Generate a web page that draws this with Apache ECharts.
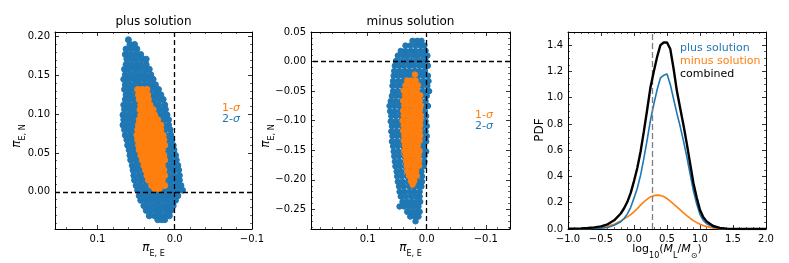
<!DOCTYPE html>
<html><head><meta charset="utf-8">
<script src="https://cdn.jsdelivr.net/npm/echarts@6/dist/echarts.min.js"></script>
<style>html,body{margin:0;padding:0;background:#fff}#c{width:789px;height:263px}</style>
</head><body><div id="c"></div>
<script>
// ---------- data: plus solution (rows of [piEN, [piEE values]]) ----------
const plusTwoSigma = [
 [0.196,[0.060]],
 [0.190,[0.058,0.052]],
 [0.184,[0.063,0.056,0.049]],
 [0.177,[0.064,0.058,0.051,0.044]],
 [0.171,[0.062,0.055,0.049,0.042,0.037]],
 [0.164,[0.063,0.057,0.050,0.044,0.037]],
 [0.158,[0.065,0.059,0.052,0.046,0.039,0.033]],
 [0.151,[0.064,0.057,0.051,0.044,0.038,0.031]],
 [0.145,[0.066,0.060,0.053,0.047,0.040,0.034,0.028]],
 [0.138,[0.064,0.058,0.051,0.045,0.038,0.031,0.025]],
 [0.132,[0.065,0.059,0.052,0.046,0.039,0.033,0.026,0.021]],
 [0.125,[0.063,0.057,0.050,0.044,0.037,0.031,0.024,0.018]],
 [0.119,[0.064,0.058,0.052,0.045,0.039,0.032,0.026,0.019,0.015]],
 [0.112,[0.066,0.060,0.053,0.047,0.040,0.034,0.027,0.021,0.013]],
 [0.106,[0.065,0.058,0.052,0.045,0.039,0.032,0.026,0.019,0.012]],
 [0.099,[0.067,0.061,0.054,0.048,0.041,0.035,0.028,0.022,0.015,0.010]],
 [0.093,[0.066,0.059,0.053,0.046,0.040,0.033,0.027,0.020,0.014,0.008]],
 [0.086,[0.067,0.061,0.054,0.048,0.041,0.035,0.028,0.022,0.015,0.008]],
 [0.080,[0.065,0.059,0.052,0.046,0.039,0.033,0.026,0.020,0.013,0.006]],
 [0.073,[0.064,0.057,0.051,0.044,0.038,0.031,0.025,0.018,0.012,0.005]],
 [0.067,[0.062,0.056,0.049,0.043,0.036,0.030,0.023,0.017,0.010,0.004]],
 [0.060,[0.061,0.054,0.048,0.041,0.035,0.028,0.022,0.015,0.009,0.002]],
 [0.054,[0.059,0.053,0.046,0.040,0.033,0.027,0.020,0.014,0.007,0.001]],
 [0.047,[0.058,0.051,0.045,0.038,0.032,0.025,0.019,0.012,0.006,-0.001]],
 [0.041,[0.057,0.050,0.044,0.037,0.031,0.024,0.018,0.011,0.005,-0.002]],
 [0.034,[0.055,0.049,0.042,0.036,0.029,0.023,0.016,0.010,0.003,-0.004]],
 [0.028,[0.054,0.048,0.041,0.035,0.028,0.022,0.015,0.009,0.002,-0.005]],
 [0.021,[0.053,0.046,0.040,0.033,0.027,0.020,0.014,0.007,0.001,-0.006]],
 [0.015,[0.052,0.045,0.039,0.032,0.026,0.019,0.013,0.006,0.000,-0.006]],
 [0.008,[0.050,0.044,0.037,0.031,0.024,0.018,0.011,0.005,-0.002,-0.008]],
 [0.002,[0.048,0.042,0.035,0.029,0.022,0.016,0.009,0.003,-0.003,-0.010]],
 [-0.005,[0.046,0.039,0.033,0.026,0.020,0.013,0.007,0.000,-0.004]],
 [-0.011,[0.044,0.037,0.031,0.024,0.018,0.011,0.005,-0.001]],
 [-0.018,[0.040,0.034,0.027,0.021,0.014,0.008,0.002]],
 [-0.024,[0.037,0.031,0.024,0.018,0.011,0.005]],
 [-0.031,[0.033,0.026,0.020,0.013,0.007]],
 [-0.036,[0.022,0.017,0.013]]
];
const plusOneSigma = [
 [0.132,[0.048,0.042,0.036]],
 [0.125,[0.047,0.041,0.035]],
 [0.119,[0.046,0.040,0.034]],
 [0.112,[0.044,0.038,0.032]],
 [0.106,[0.045,0.039,0.033,0.028]],
 [0.099,[0.044,0.038,0.032,0.026]],
 [0.093,[0.046,0.040,0.034,0.028,0.022]],
 [0.086,[0.047,0.041,0.035,0.029,0.023,0.018]],
 [0.080,[0.048,0.042,0.036,0.030,0.024,0.018]],
 [0.073,[0.049,0.043,0.037,0.031,0.025,0.019,0.015]],
 [0.067,[0.048,0.042,0.036,0.030,0.024,0.018,0.014]],
 [0.060,[0.047,0.041,0.035,0.029,0.023,0.017,0.013]],
 [0.054,[0.046,0.040,0.034,0.028,0.022,0.016]],
 [0.047,[0.044,0.038,0.032,0.026,0.020,0.014]],
 [0.041,[0.042,0.036,0.030,0.024,0.018,0.013]],
 [0.034,[0.040,0.034,0.028,0.022,0.016]],
 [0.028,[0.038,0.032,0.026,0.020,0.014]],
 [0.021,[0.036,0.030,0.024,0.018,0.013]],
 [0.015,[0.034,0.028,0.022,0.016]],
 [0.008,[0.030,0.024,0.018,0.013]],
 [0.004,[0.026,0.020]]
];
// ---------- data: minus solution ----------
const minusTwoSigma = [
 [0.035,[0.024,0.016,0.009]],
 [0.027,[0.036,0.028,0.019,0.011,0.004]],
 [0.018,[0.044,0.036,0.027,0.019,0.010,0.002]],
 [0.010,[0.049,0.040,0.032,0.023,0.015,0.006,-0.001]],
 [0.001,[0.052,0.044,0.035,0.027,0.018,0.010,0.002]],
 [-0.007,[0.054,0.047,0.039,0.030,0.022,0.013,0.005,-0.002]],
 [-0.016,[0.055,0.046,0.037,0.029,0.020,0.012,0.003]],
 [-0.024,[0.056,0.049,0.041,0.032,0.024,0.015,0.007,-0.002]],
 [-0.033,[0.057,0.048,0.039,0.031,0.022,0.014,0.005,-0.003]],
 [-0.041,[0.058,0.050,0.042,0.033,0.025,0.016,0.008,-0.001]],
 [-0.050,[0.057,0.049,0.040,0.032,0.023,0.015,0.006,-0.004]],
 [-0.058,[0.059,0.051,0.043,0.034,0.026,0.017,0.009,0.000]],
 [-0.067,[0.061,0.053,0.044,0.036,0.027,0.019,0.010,0.002]],
 [-0.075,[0.063,0.055,0.047,0.038,0.030,0.021,0.013,0.004,-0.002]],
 [-0.084,[0.062,0.054,0.045,0.037,0.028,0.020,0.011,0.003]],
 [-0.092,[0.060,0.052,0.043,0.035,0.026,0.018,0.009,0.001]],
 [-0.101,[0.061,0.053,0.045,0.036,0.028,0.019,0.011,0.002]],
 [-0.109,[0.059,0.051,0.042,0.034,0.025,0.017,0.008,0.000]],
 [-0.118,[0.060,0.052,0.044,0.035,0.027,0.018,0.010,0.002]],
 [-0.126,[0.058,0.050,0.041,0.033,0.024,0.016,0.007,0.000]],
 [-0.135,[0.059,0.051,0.043,0.034,0.026,0.017,0.009,0.001]],
 [-0.143,[0.057,0.049,0.040,0.032,0.023,0.015,0.006]],
 [-0.152,[0.056,0.048,0.039,0.031,0.022,0.014,0.005,0.001]],
 [-0.160,[0.055,0.047,0.038,0.030,0.021,0.013,0.004]],
 [-0.169,[0.054,0.046,0.037,0.029,0.020,0.012,0.004]],
 [-0.177,[0.053,0.045,0.036,0.028,0.019,0.011,0.005]],
 [-0.186,[0.051,0.043,0.034,0.026,0.017,0.009]],
 [-0.194,[0.050,0.042,0.033,0.025,0.016,0.008]],
 [-0.203,[0.049,0.041,0.032,0.024,0.015,0.008]],
 [-0.211,[0.047,0.039,0.030,0.022,0.014,0.009]],
 [-0.220,[0.046,0.038,0.029,0.021,0.012]],
 [-0.228,[0.044,0.036,0.027,0.019,0.012]],
 [-0.237,[0.041,0.033,0.025,0.017,0.011]],
 [-0.245,[0.046,0.038,0.030,0.022,0.014]],
 [-0.254,[0.033,0.025,0.017,0.012]],
 [-0.262,[0.028,0.020,0.014]],
 [-0.270,[0.019]]
];
const minusOneSigma = [
 [-0.022,[0.020]],
 [-0.032,[0.033,0.026,0.019]],
 [-0.040,[0.036,0.028,0.021,0.015]],
 [-0.049,[0.039,0.031,0.024,0.017]],
 [-0.057,[0.037,0.030,0.022,0.015,0.011]],
 [-0.066,[0.040,0.032,0.025,0.018,0.012]],
 [-0.074,[0.038,0.031,0.023,0.016,0.010]],
 [-0.083,[0.040,0.033,0.025,0.018,0.012]],
 [-0.091,[0.039,0.031,0.024,0.016,0.010]],
 [-0.100,[0.041,0.033,0.026,0.018,0.011]],
 [-0.108,[0.039,0.032,0.024,0.017,0.011]],
 [-0.117,[0.040,0.033,0.025,0.018,0.012]],
 [-0.125,[0.038,0.031,0.023,0.016,0.011]],
 [-0.134,[0.039,0.032,0.024,0.017,0.012]],
 [-0.142,[0.037,0.030,0.022,0.015]],
 [-0.151,[0.038,0.031,0.023,0.016,0.012]],
 [-0.159,[0.036,0.029,0.021,0.014]],
 [-0.168,[0.035,0.028,0.020,0.013]],
 [-0.176,[0.034,0.027,0.019,0.013]],
 [-0.185,[0.033,0.025,0.018]],
 [-0.193,[0.030,0.023,0.017]],
 [-0.202,[0.027,0.021]],
 [-0.208,[0.024]]
];
// ---------- data: mass PDF ----------
const logMass = [-1.0,-0.9,-0.8,-0.7,-0.6,-0.5,-0.4,-0.3,-0.2,-0.15,-0.1,-0.05,0.0,0.05,0.1,0.15,0.2,0.25,0.3,0.35,0.4,0.45,0.5,0.55,0.6,0.65,0.7,0.75,0.8,0.85,0.9,0.95,1.0,1.05,1.1,1.2,1.3,1.4,1.5,1.6,1.8,2.0];
const plusPdf = [0.000,0.000,0.001,0.002,0.004,0.007,0.012,0.028,0.055,0.080,0.115,0.165,0.235,0.31,0.41,0.54,0.68,0.83,0.95,1.06,1.15,1.17,1.18,1.10,0.99,0.88,0.78,0.67,0.55,0.42,0.29,0.19,0.11,0.065,0.040,0.015,0.006,0.002,0.001,0.0,0.0,0.0];
const minusPdf = [0.000,0.001,0.002,0.004,0.007,0.012,0.022,0.036,0.062,0.078,0.092,0.110,0.130,0.155,0.182,0.207,0.228,0.245,0.254,0.258,0.256,0.247,0.232,0.212,0.190,0.168,0.145,0.123,0.102,0.082,0.064,0.049,0.036,0.026,0.018,0.008,0.003,0.001,0.0,0.0,0.0,0.0];
const combinedPdf = [0.002,0.003,0.005,0.008,0.012,0.020,0.036,0.066,0.118,0.158,0.207,0.275,0.365,0.465,0.59,0.745,0.91,1.08,1.20,1.31,1.40,1.42,1.42,1.37,1.22,1.05,0.92,0.79,0.65,0.50,0.35,0.24,0.145,0.09,0.058,0.023,0.009,0.003,0.001,0.0,0.0,0.0];
const massMarker = 0.28;
const refZero = 0;
const titles = ['plus solution','minus solution'];
const pdfLegend = ['plus solution','minus solution','combined'];

// ---------- chart ----------
const F = 'DejaVu Sans';
const BLUE = '#1f77b4', ORANGE = '#ff7f0e';
function rowsToPoints(rows){ const out=[]; rows.forEach(r=>r[1].forEach(x=>out.push([x,r[0]]))); return out; }
function fmt(dec, step){ return v => { const k=v/step; if (Math.abs(k-Math.round(k))>1e-6) return ''; if (Math.abs(v)<1e-9) v=0; return v.toFixed(dec).replace('-','\u2212'); }; }
function axes(dim, grid, o){
  const base = {
    type:'value', gridIndex:grid, min:o.min, max:o.max, inverse:!!o.inverse,
    scale:true,
    axisLine:{show:true,onZero:false,lineStyle:{color:'#000',width:1}},
    axisTick:{show:true,inside:true,length:4,lineStyle:{color:'#000',width:0.8}},
    minorTick:{show:true,splitNumber:o.minor,length:2,lineStyle:{color:'#000',width:0.6}},
    splitLine:{show:false}, minorSplitLine:{show:false}
  };
  if (o.interval!==undefined) base.interval=o.interval;
  if (o.split!==undefined) base.splitNumber=o.split;
  const main = Object.assign({}, base, {position: dim==='x'?'bottom':'left',
    axisLabel:{show:true,color:'#000',fontFamily:F,fontSize:10,margin:5,formatter:fmt(o.dec,o.step),showMinLabel:true,showMaxLabel:true}});
  const mirror = Object.assign({}, base, {position: dim==='x'?'top':'right', axisLabel:{show:false}});
  return [main, mirror];
}
const xAxes = [].concat(
  axes('x',0,{min:-0.1,max:0.155,inverse:true,interval:0.1,minor:5,dec:1,step:0.1}),
  axes('x',1,{min:-0.141,max:0.196,inverse:true,split:3,minor:5,dec:1,step:0.1}),
  axes('x',2,{min:-1,max:2,interval:0.5,minor:5,dec:1,step:0.5})
);
const yAxes = [].concat(
  axes('y',0,{min:-0.048,max:0.206,split:5,minor:5,dec:2,step:0.05}),
  axes('y',1,{min:-0.283,max:0.05,split:6,minor:5,dec:2,step:0.05}),
  axes('y',2,{min:0,max:1.5,interval:0.2,minor:4,dec:1,step:0.2})
);
const dashLines = {silent:true,symbol:'none',label:{show:false},animation:false,
  lineStyle:{color:'#000',type:[5,3],width:1.3},data:[{xAxis:refZero},{yAxis:refZero}]};
const dot = c => ({color:c,opacity:1,borderWidth:1,borderColor:c});
const noEmph = {disabled:true};
const series = [
  {type:'scatter',xAxisIndex:0,yAxisIndex:0,data:rowsToPoints(plusTwoSigma),symbolSize:6,itemStyle:dot(BLUE),emphasis:noEmph,z:2},
  {type:'scatter',xAxisIndex:0,yAxisIndex:0,data:rowsToPoints(plusOneSigma),symbolSize:6,itemStyle:dot(ORANGE),emphasis:noEmph,z:3,markLine:dashLines},
  {type:'scatter',xAxisIndex:2,yAxisIndex:2,data:rowsToPoints(minusTwoSigma),symbolSize:5.5,itemStyle:dot(BLUE),emphasis:noEmph,z:2},
  {type:'scatter',xAxisIndex:2,yAxisIndex:2,data:rowsToPoints(minusOneSigma),symbolSize:5.5,itemStyle:dot(ORANGE),emphasis:noEmph,z:3,markLine:dashLines},
  {type:'line',xAxisIndex:4,yAxisIndex:4,data:logMass.map((x,i)=>[x,minusPdf[i]]),showSymbol:false,lineStyle:{color:ORANGE,width:1.6},z:3,
    markLine:{silent:true,symbol:'none',label:{show:false},animation:false,lineStyle:{color:'#7f7f7f',type:[6,3],width:1.3},data:[{xAxis:massMarker}]}},
  {type:'line',xAxisIndex:4,yAxisIndex:4,data:logMass.map((x,i)=>[x,plusPdf[i]]),showSymbol:false,lineStyle:{color:BLUE,width:1.6},z:4},
  {type:'line',xAxisIndex:4,yAxisIndex:4,data:logMass.map((x,i)=>[x,combinedPdf[i]]),showSymbol:false,lineStyle:{color:'#000',width:2.4},z:5}
];
function txt(x,y,text,rich,extra){
  return Object.assign({type:'text',x:x,y:y,z:100,style:{text:text,rich:rich,fill:'#000',font:'11px '+F,fontFamily:F,align:'center',verticalAlign:'middle',textAlign:'center',textVerticalAlign:'middle'}},extra||{});
}
const piRich = {p:{fontSize:12,fontFamily:F,fontStyle:'italic',fill:'#000',lineHeight:16,verticalAlign:'top'},
                s:{fontSize:8,fontFamily:F,fill:'#000',lineHeight:8,verticalAlign:'bottom'}};
const sigRich = c => ({a:{fontSize:11,fontFamily:F,fill:c},b:{fontSize:11,fontFamily:F,fontStyle:'italic',fill:c}});
const massRich = {n:{fontSize:11,fontFamily:F,fill:'#000',lineHeight:16,verticalAlign:'top'},
                  i:{fontSize:11,fontFamily:F,fontStyle:'italic',fill:'#000',lineHeight:16,verticalAlign:'top'},
                  s:{fontSize:8,fontFamily:F,fill:'#000',lineHeight:8,verticalAlign:'bottom'}};
function leftTxt(x,y,text,color){return {type:'text',x:x,y:y,z:100,style:{text:text,fill:color,font:'11px '+F,align:'left',verticalAlign:'middle',textAlign:'left',textVerticalAlign:'middle'}};}
const graphic = [
  txt(153.5,22,titles[0]),
  txt(410.5,22,titles[1]),
  txt(153.5,250,'{p|π}{s|E, E}',piRich),
  txt(410.5,250,'{p|π}{s|E, E}',piRich),
  txt(19,136,'{p|π}{s|E, N}',piRich,{rotation:Math.PI/2}),
  txt(268,136,'{p|π}{s|E, N}',piRich,{rotation:Math.PI/2}),
  txt(540,130,'PDF',null,{rotation:Math.PI/2}),
  txt(667,252,'{n|log}{s|10}{n|(}{i|M}{s|L}{n|/}{i|M}{s|⊙}{n|)}',massRich),
  txt(231,108,'{a|1-}{b|σ}',sigRich(ORANGE)),
  txt(231,119,'{a|2-}{b|σ}',sigRich(BLUE)),
  txt(484,115,'{a|1-}{b|σ}',sigRich(ORANGE)),
  txt(484,126,'{a|2-}{b|σ}',sigRich(BLUE)),
  leftTxt(680,48,pdfLegend[0],BLUE),
  leftTxt(680,61,pdfLegend[1],ORANGE),
  leftTxt(680,74,pdfLegend[2],'#000')
];
graphic[0].style.font='13px '+F; graphic[1].style.font='13px '+F;
const chart = echarts.init(document.getElementById('c'), null, {renderer:'canvas'});
chart.setOption({
  animation:false, backgroundColor:'#fff',
  grid:[{left:55,top:32,width:197,height:197},{left:311,top:32,width:199,height:197},{left:568,top:32,width:198,height:197}],
  xAxis:xAxes, yAxis:yAxes, series:series, graphic:graphic
});
</script></body></html>
